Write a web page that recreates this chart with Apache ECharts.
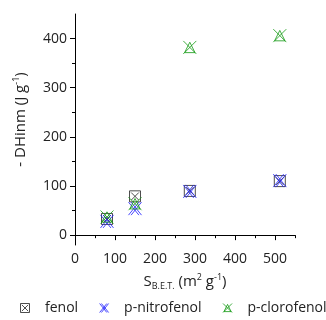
<!DOCTYPE html>
<html><head><meta charset="utf-8">
<script src="https://cdn.jsdelivr.net/npm/echarts@6/dist/echarts.min.js"></script>
<style>html,body{margin:0;padding:0;background:#fff}#c{width:326px;height:320px}</style>
</head><body><div id="c"></div>
<script>
const sbet = [80, 150, 287, 512];
const fenol = [33, 79, 90, 110];
const pNitrofenol = [28, 54, 89, 111];
const pClorofenol = [37, 64, 382, 406];
const xTicks = [0, 100, 200, 300, 400, 500];
const xMinorTicks = [50, 150, 250, 350, 450, 550];
const yTicks = [0, 100, 200, 300, 400];
const yMinorTicks = [50, 150, 250, 350];

const symFenol = 'path://M0,0L10,0L10,10L0,10Z M1.5,1.5L8.5,8.5 M8.5,1.5L1.5,8.5';
const symNitro = 'path://M0,0L8,10 M2,0L10,10 M8,0L0,10 M10,0L2,10';
const symCloro = 'path://M0,0L10,10 M10,0L0,10 M5,1L1,9L9,9Z';

function pairs(ys){ return sbet.map((x,i)=>[x, ys[i]]); }
const font = '"Open Sans", sans-serif';
const lab = {fontSize: 14, color: '#222', fontFamily: font};
const nm = {fontSize: 15, color: '#222', fontFamily: font};
const C_F = '#222', C_N = '#1a1aff', C_C = '#139a13';

const chart = echarts.init(document.getElementById('c'));
chart.setOption({
  animation: false,
  textStyle: {fontFamily: font},
  grid: {left: 75, top: 14, right: 31, bottom: 75},
  legend: {
    bottom: 0, left: 15, width: 420, itemWidth: 30, itemHeight: 9, itemGap: 21,
    textStyle: {fontSize: 14, color: '#222', fontFamily: font},
    data: [
      {name: 'fenol', icon: symFenol, itemStyle: {color: 'rgba(0,0,0,0)', borderColor: C_F, borderWidth: 1}},
      {name: 'p-nitrofenol', icon: symNitro, itemStyle: {color: 'rgba(0,0,0,0)', borderColor: C_N, borderWidth: 1}},
      {name: 'p-clorofenol', icon: symCloro, itemStyle: {color: 'rgba(0,0,0,0)', borderColor: C_C, borderWidth: 1}}
    ]
  },
  xAxis: [{
    type: 'value', min: 0, max: 550,
    name: '{a|S}{s|B.E.T.}{a| (m}{p|2}{a| g}{p|-1}{a|)}',
    nameLocation: 'middle', nameGap: 28,
    nameTextStyle: {rich: {
      a: nm,
      s: {fontSize: 9, color: '#222', fontFamily: font, verticalAlign: 'bottom', padding: [9,0,0,0]},
      p: {fontSize: 9, color: '#222', fontFamily: font, verticalAlign: 'top', padding: [0,0,8,0]}
    }},
    axisLine: {lineStyle: {color: '#000', width: 1}},
    axisTick: {show: true, length: 5, customValues: xTicks, lineStyle: {color: '#000'}},
    splitLine: {show: false},
    axisLabel: {...lab, margin: 7, customValues: xTicks}
  }, {
    type: 'value', min: 0, max: 550, position: 'bottom',
    axisLine: {show: false},
    axisTick: {show: true, length: 3, customValues: xMinorTicks, lineStyle: {color: '#000'}},
    axisLabel: {show: false},
    splitLine: {show: false}
  }],
  yAxis: [{
    type: 'value', min: -20, max: 450,
    name: '{w|}{a|- DHinm (J g}{p|-1}{a|)}',
    nameLocation: 'middle', nameGap: 46, nameRotate: 90,
    nameTextStyle: {rich: {
      w: {width: 20},
      a: nm,
      p: {fontSize: 9, color: '#222', fontFamily: font, verticalAlign: 'top', padding: [0,0,8,0]}
    }},
    axisLine: {show: true, lineStyle: {color: '#000', width: 1}},
    axisTick: {show: true, length: 5, customValues: yTicks, lineStyle: {color: '#000'}},
    splitLine: {show: false},
    axisLabel: {...lab, margin: 8, customValues: yTicks}
  }, {
    type: 'value', min: -20, max: 450, position: 'left',
    axisLine: {show: false},
    axisTick: {show: true, length: 3, customValues: yMinorTicks, lineStyle: {color: '#000'}},
    axisLabel: {show: false},
    splitLine: {show: false}
  }],
  series: [
    {name: 'fenol', type: 'scatter', data: pairs(fenol), symbol: symFenol, symbolSize: 11,
     itemStyle: {color: 'rgba(255,255,255,0.6)', borderColor: C_F, borderWidth: 1}},
    {name: 'p-nitrofenol', type: 'scatter', data: pairs(pNitrofenol), symbol: symNitro, symbolSize: 13,
     itemStyle: {color: 'rgba(0,0,0,0)', borderColor: C_N, borderWidth: 1}},
    {name: 'p-clorofenol', type: 'scatter', data: pairs(pClorofenol), symbol: symCloro, symbolSize: 13,
     itemStyle: {color: 'rgba(0,0,0,0)', borderColor: C_C, borderWidth: 1}}
  ]
});
</script></body></html>
